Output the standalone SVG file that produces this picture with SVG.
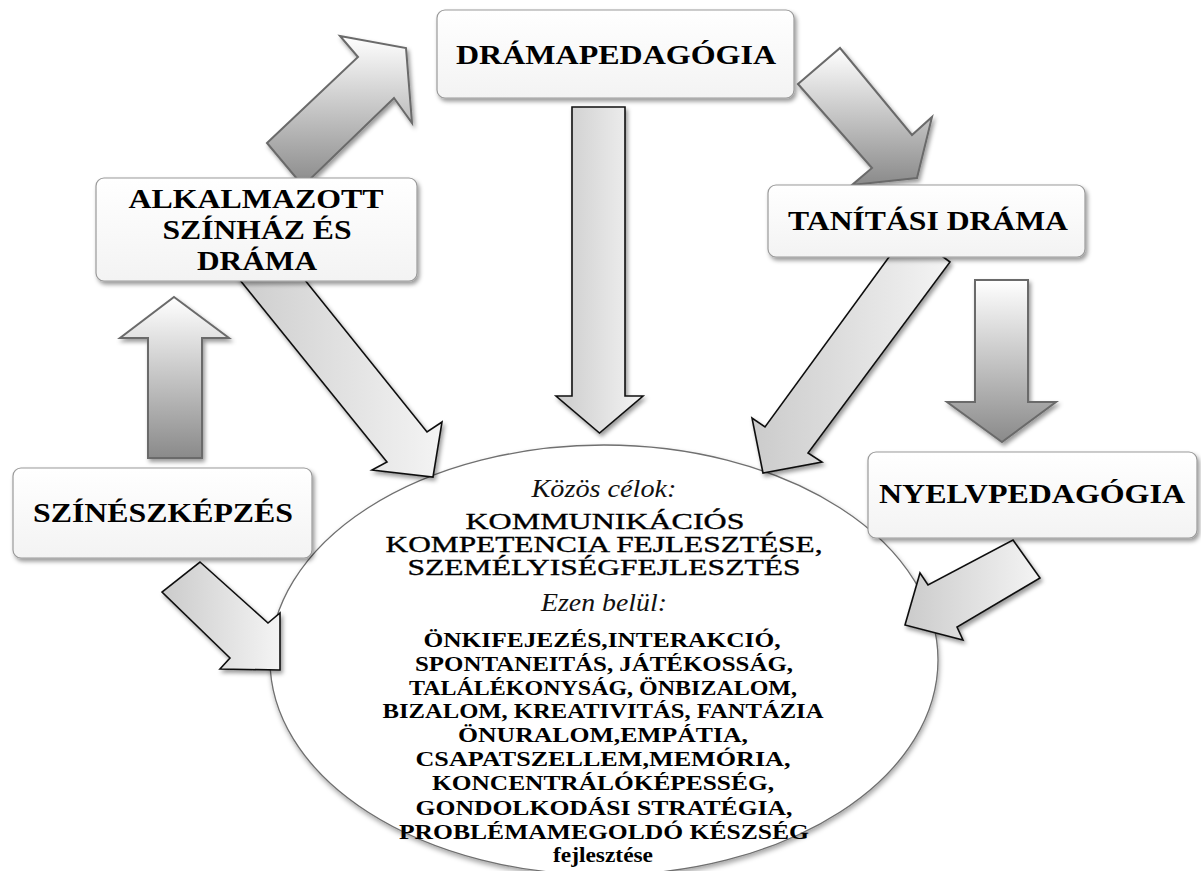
<svg xmlns="http://www.w3.org/2000/svg" width="1201" height="871" viewBox="0 0 1201 871">
<defs>
<linearGradient id="gArrowGray" x1="0" y1="0" x2="0" y2="1">
<stop offset="0" stop-color="#ffffff"/>
<stop offset="1" stop-color="#8a8a8a"/>
</linearGradient>
<linearGradient id="gArrowLight" x1="0" y1="0" x2="1" y2="0">
<stop offset="0" stop-color="#cbcbcb"/>
<stop offset="1" stop-color="#f4f4f4"/>
</linearGradient>
<linearGradient id="gBox" x1="0" y1="0" x2="0" y2="1">
<stop offset="0" stop-color="#ffffff"/>
<stop offset="1" stop-color="#f3f3f3"/>
</linearGradient>
<filter id="shadow" x="-20%" y="-20%" width="140%" height="140%">
<feDropShadow dx="2" dy="3" stdDeviation="2" flood-color="#000" flood-opacity="0.4"/>
</filter>
<filter id="shadowE" x="-10%" y="-10%" width="120%" height="120%">
<feDropShadow dx="1" dy="3" stdDeviation="2.5" flood-color="#000" flood-opacity="0.35"/>
</filter>
</defs>
<style>
.box{fill:url(#gBox);stroke:#9a9a9a;stroke-width:1.2;filter:url(#shadow)}
.ag{fill:url(#gArrowGray);stroke:#6a6a6a;stroke-width:2;stroke-linejoin:miter;filter:url(#shadow)}
.ab{fill:url(#gArrowLight);stroke:#111;stroke-width:1.6;stroke-linejoin:miter;filter:url(#shadow)}
text{fill:#000;text-anchor:middle}
.lbl{font-weight:bold}
.it{font-style:italic;fill:#111}
.big{stroke:#000;stroke-width:0.35}
.sm{font-weight:bold;font-size:21px}
</style>

<g id="center">
<ellipse cx="604" cy="660" rx="334" ry="215" fill="#fff" stroke="#6f6f6f" stroke-width="1.3" filter="url(#shadowE)"/>
</g>

<g id="connectors">
<polygon class="ag" points="174,297 229,338 202,338 202,458 148,458 148,338 120,338"/>
<polygon class="ag" points="267,143 358,57 340,36 406,48 412,123 394,98 303,186"/>
<polygon class="ag" points="798,84 840,48 912,135 932,117 917,178 852,185 872,168"/>
<polygon class="ag" points="975,280 1028,280 1028,402 1056,402 1002,442 947,402 975,402"/>
<polygon class="ab" points="227,264 292,264 427,432 442,422 433,477 372,470 387,462"/>
<polygon class="ab" points="572,107 625,107 625,396 643,396 599.5,433 556,396 572,396"/>
<polygon class="ab" points="908,231 950,262 808,453 822,462 763,473 752,418 765,427"/>
<polygon class="ab" points="200,562 268,623 280,613 280,670 220,669 230,658 162,592"/>
<polygon class="ab" points="1013,540 1040,578 957,627 963,640 905,625 920,573 928,585"/>
</g>

<g font-family="'Liberation Serif', 'Times New Roman', 'DejaVu Serif', serif">
<g id="node-dramapedagogia">
<rect class="box" x="437" y="10" width="357" height="88" rx="8"/>
<text class="lbl" x="616" y="64" font-size="28" textLength="320" lengthAdjust="spacingAndGlyphs">DRÁMAPEDAGÓGIA</text>
</g>

<g id="node-alkalmazott">
<rect class="box" x="96" y="178" width="321" height="103" rx="8"/>
<text class="lbl" x="256" y="208" font-size="27" textLength="255" lengthAdjust="spacingAndGlyphs">ALKALMAZOTT</text>
<text class="lbl" x="257" y="239" font-size="27" textLength="189" lengthAdjust="spacingAndGlyphs">SZÍNHÁZ ÉS</text>
<text class="lbl" x="257" y="270" font-size="27" textLength="120" lengthAdjust="spacingAndGlyphs">DRÁMA</text>
</g>

<g id="node-tanitasi">
<rect class="box" x="768" y="185" width="317" height="72" rx="8"/>
<text class="lbl" x="928" y="230" font-size="27" textLength="280" lengthAdjust="spacingAndGlyphs">TANÍTÁSI DRÁMA</text>
</g>

<g id="node-szineszkepzes">
<rect class="box" x="13" y="468" width="299" height="90" rx="8"/>
<text class="lbl" x="163" y="522" font-size="27" textLength="260" lengthAdjust="spacingAndGlyphs">SZÍNÉSZKÉPZÉS</text>
</g>

<g id="node-nyelvpedagogia">
<rect class="box" x="868" y="452" width="329" height="86" rx="8"/>
<text class="lbl" x="1032" y="503" font-size="28" textLength="306" lengthAdjust="spacingAndGlyphs">NYELVPEDAGÓGIA</text>
</g>

<g id="center-text">
<text class="it" x="604" y="497" font-size="25" textLength="145" lengthAdjust="spacingAndGlyphs">Közös célok:</text>
<text class="big" x="605" y="529" font-size="23" textLength="279" lengthAdjust="spacingAndGlyphs">KOMMUNIKÁCIÓS</text>
<text class="big" x="604" y="552" font-size="23" textLength="437" lengthAdjust="spacingAndGlyphs">KOMPETENCIA FEJLESZTÉSE,</text>
<text class="big" x="604" y="575" font-size="23" textLength="393" lengthAdjust="spacingAndGlyphs">SZEMÉLYISÉGFEJLESZTÉS</text>
<text class="it" x="604" y="611" font-size="26" textLength="126" lengthAdjust="spacingAndGlyphs">Ezen belül:</text>
<text class="sm" x="602" y="647" textLength="357" lengthAdjust="spacingAndGlyphs">ÖNKIFEJEZÉS,INTERAKCIÓ,</text>
<text class="sm" x="604" y="671" textLength="378" lengthAdjust="spacingAndGlyphs">SPONTANEITÁS, JÁTÉKOSSÁG,</text>
<text class="sm" x="603" y="695" textLength="388" lengthAdjust="spacingAndGlyphs">TALÁLÉKONYSÁG, ÖNBIZALOM,</text>
<text class="sm" x="603" y="718" textLength="441" lengthAdjust="spacingAndGlyphs">BIZALOM, KREATIVITÁS, FANTÁZIA</text>
<text class="sm" x="603" y="742" textLength="290" lengthAdjust="spacingAndGlyphs">ÖNURALOM,EMPÁTIA,</text>
<text class="sm" x="603" y="766" textLength="375" lengthAdjust="spacingAndGlyphs">CSAPATSZELLEM,MEMÓRIA,</text>
<text class="sm" x="603" y="790" textLength="342" lengthAdjust="spacingAndGlyphs">KONCENTRÁLÓKÉPESSÉG,</text>
<text class="sm" x="604" y="815" textLength="377" lengthAdjust="spacingAndGlyphs">GONDOLKODÁSI STRATÉGIA,</text>
<text class="sm" x="604" y="839" textLength="410" lengthAdjust="spacingAndGlyphs">PROBLÉMAMEGOLDÓ KÉSZSÉG</text>
<text class="sm" x="603" y="862" textLength="100" lengthAdjust="spacingAndGlyphs">fejlesztése</text>
</g>
</g>
</svg>
